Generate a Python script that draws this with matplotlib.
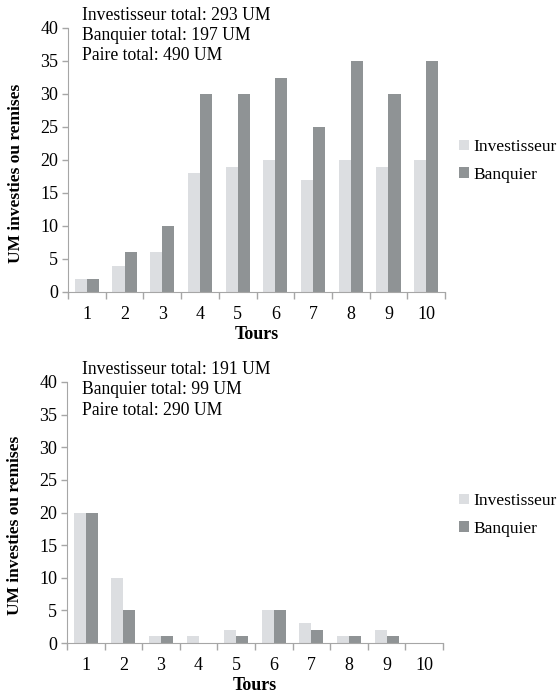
import numpy as np
import matplotlib.pyplot as plt

plt.rcParams['font.family'] = ['Liberation Serif', 'DejaVu Serif']

tours = [1, 2, 3, 4, 5, 6, 7, 8, 9, 10]
inv_haut = [2, 4, 6, 18, 19, 20, 17, 20, 19, 20]
ban_haut = [2, 6, 10, 30, 30, 32.4, 25, 35, 30, 35]
inv_bas = [20, 10, 1, 1, 2, 5, 3, 1, 2, 0]
ban_bas = [20, 5, 1, 0, 1, 5, 2, 1, 1, 0]
notes_haut = ['Investisseur total: 293 UM', 'Banquier total: 197 UM', 'Paire total: 490 UM']
notes_bas = ['Investisseur total: 191 UM', 'Banquier total: 99 UM', 'Paire total: 290 UM']

c_inv = '#dcdee1'
c_ban = '#8f9395'
c_axe = '#a6a6a6'

fig = plt.figure(figsize=(5.59, 6.99), dpi=100)
W, H = 559, 699

def panel(left, top, right, bottom, inv, ban, notes, leg_y):
    ax = fig.add_axes([left / W, 1 - bottom / H, (right - left) / W, (bottom - top) / H])
    x = np.array(tours)
    w = 0.32
    ax.bar(x - w / 2, inv, w, color=c_inv, label='Investisseur')
    ax.bar(x + w / 2, ban, w, color=c_ban, label='Banquier')
    ax.set_xlim(0.5, 10.5)
    ax.set_ylim(0, 40)
    ax.set_yticks(range(0, 41, 5))
    ax.set_xticks(np.arange(0.5, 11, 1))
    ax.set_xticklabels([])
    ax.set_xticks(x, minor=True)
    ax.set_xticklabels([str(t) for t in tours], minor=True)
    ax.tick_params(axis='x', which='major', length=5, color=c_axe, width=1)
    ax.tick_params(axis='x', which='minor', length=0, pad=10, labelsize=13)
    ax.tick_params(axis='y', length=4, color=c_axe, width=1, labelsize=13, pad=3)
    for s in ['top', 'right']:
        ax.spines[s].set_visible(False)
    for s in ['left', 'bottom']:
        ax.spines[s].set_color(c_axe)
    ax.set_ylabel('UM investies ou remises', fontsize=12.5, fontweight='bold')
    ax.yaxis.set_label_coords(-44 / (right - left), 0.45)
    ax.set_xlabel('Tours', fontsize=13, fontweight='bold', labelpad=2)
    for i, t in enumerate(notes):
        fig.text(82 / W, 1 - (top - 13 + i * 20.5) / H, t, fontsize=12.7, va='center', ha='left')
    ax.legend(loc='center left', bbox_to_anchor=((459 - left) / (right - left), 1 - (leg_y - top) / (bottom - top)),
              frameon=False, fontsize=12.5, handlelength=0.55, handleheight=0.55, handletextpad=0.3,
              labelspacing=0.65, borderaxespad=0, borderpad=0)
    return ax

panel(68, 28, 445, 292, inv_haut, ban_haut, notes_haut, 161)
panel(67, 382, 443, 643, inv_bas, ban_bas, notes_bas, 515)

fig.savefig('out.png', dpi=100)
